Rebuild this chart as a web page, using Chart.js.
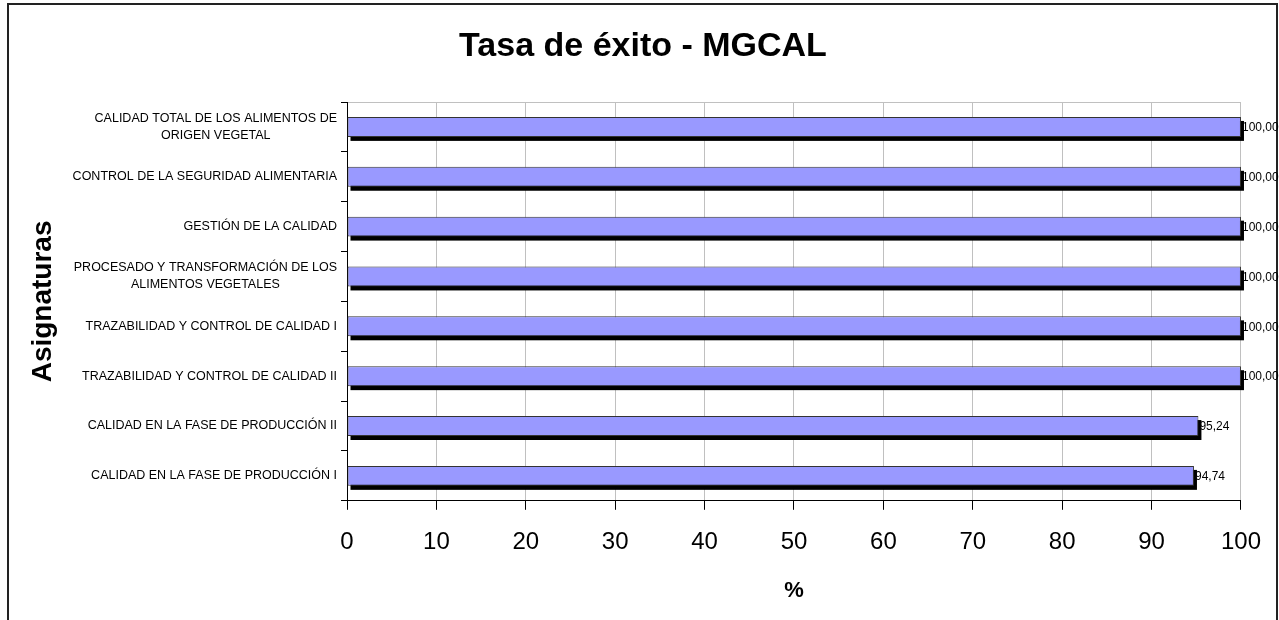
<!DOCTYPE html>
<html>
<head>
<meta charset="utf-8">
<script src="https://cdn.jsdelivr.net/npm/chart.js@4/dist/chart.umd.min.js"></script>
<style>
    html, body { margin: 0; padding: 0; background: #fff; }
    #wrap { width: 1279px; height: 620px; }
</style>
</head>
<body>
<div id="wrap"><canvas id="tasaChart" width="1279" height="620"></canvas></div>
<script>
// Datos de la gráfica (de arriba a abajo)
const asignaturas = [
    ['CALIDAD TOTAL DE LOS ALIMENTOS DE', 'ORIGEN VEGETAL'],
    ['CONTROL DE LA SEGURIDAD ALIMENTARIA'],
    ['GESTIÓN DE LA CALIDAD'],
    ['PROCESADO Y TRANSFORMACIÓN DE LOS', 'ALIMENTOS VEGETALES'],
    ['TRAZABILIDAD Y CONTROL DE CALIDAD I'],
    ['TRAZABILIDAD Y CONTROL DE CALIDAD II'],
    ['CALIDAD EN LA FASE DE PRODUCCIÓN II'],
    ['CALIDAD EN LA FASE DE PRODUCCIÓN I']
];
const tasaExito = [100, 100, 100, 100, 100, 100, 95.24, 94.74];
const xTicks = [0, 10, 20, 30, 40, 50, 60, 70, 80, 90, 100];
const titulo = 'Tasa de éxito - MGCAL';

const fuente = 'Arial, "Liberation Sans", sans-serif';

// Marco exterior, título y línea superior del área de trazado
const marcoPlugin = {
    id: 'marco',
    beforeDraw(chart) {
        const ctx = chart.ctx;
        const area = chart.chartArea;
        ctx.save();
        ctx.fillStyle = '#fff';
        ctx.fillRect(0, 0, chart.width, chart.height);
        ctx.strokeStyle = '#c0c0c0';
        ctx.lineWidth = 1;
        ctx.beginPath();
        ctx.moveTo(area.left, Math.round(area.top) + 0.5);
        ctx.lineTo(area.right, Math.round(area.top) + 0.5);
        ctx.stroke();

        ctx.fillStyle = '#000';
        ctx.font = 'bold 34px ' + fuente;
        ctx.textAlign = 'center';
        ctx.textBaseline = 'middle';
        ctx.fillText(titulo, 643, 47);
        ctx.restore();
    },
    afterDraw(chart) {
        const ctx = chart.ctx;
        ctx.save();
        ctx.strokeStyle = '#222';
        ctx.lineWidth = 2;
        ctx.strokeRect(8, 4, 1269, 700);
        ctx.restore();
    }
};

// Sombra negra de las barras (desplazada abajo a la derecha)
const sombraPlugin = {
    id: 'sombra',
    beforeDatasetsDraw(chart) {
        const ctx = chart.ctx;
        const meta = chart.getDatasetMeta(0);
        ctx.save();
        ctx.fillStyle = '#000';
        meta.data.forEach(bar => {
            const top = bar.y - bar.height / 2;
            ctx.fillRect(bar.base + 3, top + 4, bar.x - bar.base, bar.height);
        });
        ctx.restore();
    }
};

// Etiquetas de categoría centradas entre sí y alineadas al eje
const etiquetasPlugin = {
    id: 'etiquetas',
    afterDraw(chart) {
        const ctx = chart.ctx;
        const yScale = chart.scales.y;
        const lineH = 17;
        ctx.save();
        ctx.font = '12.5px ' + fuente;
        ctx.fillStyle = '#000';
        ctx.textBaseline = 'middle';
        ctx.textAlign = 'center';
        asignaturas.forEach((lines, i) => {
            const y = yScale.getPixelForValue(i);
            const w = Math.max(...lines.map(l => ctx.measureText(l).width));
            const cx = yScale.right - 10 - w / 2;
            const y0 = y - (lines.length - 1) * lineH / 2;
            lines.forEach((l, j) => ctx.fillText(l, cx, y0 + j * lineH));
        });

        // Valores de las barras
        ctx.font = '12px ' + fuente;
        ctx.textAlign = 'left';
        const meta = chart.getDatasetMeta(0);
        meta.data.forEach((bar, i) => {
            const txt = tasaExito[i].toFixed(2).replace('.', ',');
            ctx.fillText(txt, bar.x + 1, bar.y + 1);
        });
        ctx.restore();
    }
};

const ctx = document.getElementById('tasaChart');
new Chart(ctx, {
    type: 'bar',
    data: {
        labels: asignaturas.map(l => l.join(' ')),
        datasets: [{
            data: tasaExito,
            backgroundColor: '#9999ff',
            borderColor: '#333',
            borderWidth: 1,
            borderSkipped: false,
            barPercentage: 0.4,
            categoryPercentage: 1
        }]
    },
    options: {
        indexAxis: 'y',
        responsive: false,
        animation: false,
        layout: {
            padding: { left: 8, right: 38, top: 102, bottom: 16 }
        },
        plugins: {
            legend: { display: false },
            tooltip: { enabled: false },
            title: { display: false }
        },
        scales: {
            x: {
                min: 0,
                max: 100,
                afterBuildTicks(scale) {
                    scale.ticks = xTicks.map(v => ({ value: v }));
                },
                grid: {
                    color: '#c0c0c0',
                    tickColor: '#000',
                    tickLength: 9
                },
                border: { color: '#000', width: 1 },
                ticks: {
                    color: '#000',
                    padding: 18,
                    maxRotation: 0,
                    font: { family: fuente, size: 24 }
                },
                title: {
                    display: true,
                    text: '%',
                    color: '#000',
                    font: { family: fuente, size: 22, weight: 'bold' },
                    padding: { top: 3, bottom: 0 }
                }
            },
            y: {
                afterFit(scale) {
                    scale.width = 339;
                },
                grid: {
                    offset: true,
                    drawOnChartArea: false,
                    tickColor: '#000',
                    tickLength: 6
                },
                border: { color: '#000', width: 1 },
                ticks: { display: false },
                title: {
                    display: true,
                    text: 'Asignaturas',
                    color: '#000',
                    font: { family: fuente, size: 28, weight: 'bold' },
                    padding: { top: 18, bottom: 0 }
                }
            }
        }
    },
    plugins: [marcoPlugin, sombraPlugin, etiquetasPlugin]
});
</script>
</body>
</html>
